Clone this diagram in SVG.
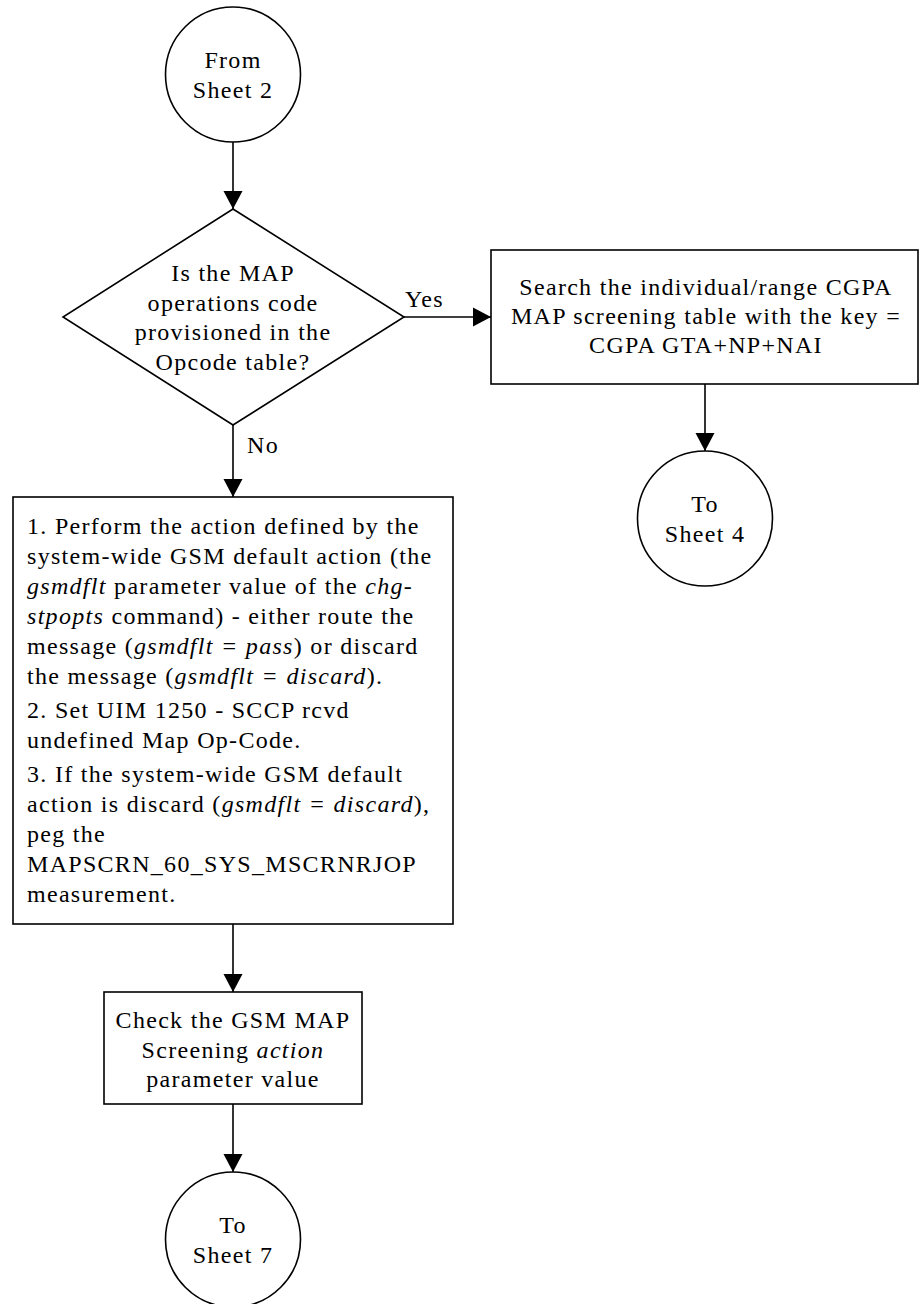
<svg xmlns="http://www.w3.org/2000/svg" width="921" height="1304" viewBox="0 0 921 1304">
<style>
.s{fill:#fff;stroke:#000;stroke-width:1.6}
.c{stroke:#000;stroke-width:1.6;fill:none}
text{font-family:"Liberation Serif","Times New Roman",serif;font-size:24px;fill:#000;letter-spacing:1.3px}
.m{text-anchor:middle}
.i{font-style:italic}
</style>
<defs>
<marker id="ah" markerWidth="20" markerHeight="20" refX="18" refY="10" orient="auto" markerUnits="userSpaceOnUse">
<path d="M0,0.5 L18,10 L0,19.5 Z" fill="#000"/>
</marker>
</defs>
<g id="connectors">
<line class="c" x1="233" y1="142" x2="233" y2="209" marker-end="url(#ah)"/>
<line class="c" x1="404" y1="317" x2="491" y2="317" marker-end="url(#ah)"/>
<line class="c" x1="705" y1="384" x2="705" y2="451" marker-end="url(#ah)"/>
<line class="c" x1="233" y1="425" x2="233" y2="497" marker-end="url(#ah)"/>
<line class="c" x1="233" y1="924" x2="233" y2="992" marker-end="url(#ah)"/>
<line class="c" x1="233" y1="1104" x2="233" y2="1172" marker-end="url(#ah)"/>
<text x="405" y="307">Yes</text>
<text x="247" y="453">No</text>
</g>
<g id="from2">
<circle class="s" cx="233" cy="74.5" r="67.5"/>
<text class="m" x="233" y="68">From</text>
<text class="m" x="233" y="98">Sheet 2</text>
</g>
<g id="decision">
<polygon class="s" points="233,209 404,317 233,425 63,317"/>
<text class="m" x="233" y="281">Is the MAP</text>
<text class="m" x="233" y="311">operations code</text>
<text class="m" x="233" y="340">provisioned in the</text>
<text class="m" x="233" y="370">Opcode table?</text>
</g>
<g id="search">
<rect class="s" x="491" y="250" width="427" height="134"/>
<text class="m" x="706" y="295">Search the individual/range CGPA</text>
<text class="m" x="706" y="324">MAP screening table with the key =</text>
<text class="m" x="706" y="353">CGPA GTA+NP+NAI</text>
</g>
<g id="to4">
<circle class="s" cx="705" cy="518.5" r="67.5"/>
<text class="m" x="705" y="512">To</text>
<text class="m" x="705" y="542">Sheet 4</text>
</g>
<g id="action">
<rect class="s" x="13" y="497" width="440" height="427"/>
<text x="27" y="534">1. Perform the action defined by the</text>
<text x="27" y="564">system-wide GSM default action (the</text>
<text x="27" y="594"><tspan class="i">gsmdflt</tspan> parameter value of the <tspan class="i">chg-</tspan></text>
<text x="27" y="624"><tspan class="i">stpopts</tspan> command) - either route the</text>
<text x="27" y="654">message (<tspan class="i">gsmdflt = pass</tspan>) or discard</text>
<text x="27" y="684">the message (<tspan class="i">gsmdflt = discard</tspan>).</text>
<text x="27" y="718">2. Set UIM 1250 - SCCP rcvd</text>
<text x="27" y="748">undefined Map Op-Code.</text>
<text x="27" y="782">3. If the system-wide GSM default</text>
<text x="27" y="812">action is discard (<tspan class="i">gsmdflt = discard</tspan>),</text>
<text x="27" y="842">peg the</text>
<text x="27" y="872">MAPSCRN_60_SYS_MSCRNRJOP</text>
<text x="27" y="902">measurement.</text>
</g>
<g id="check">
<rect class="s" x="104" y="992" width="258" height="112"/>
<text class="m" x="233" y="1028">Check the GSM MAP</text>
<text class="m" x="233" y="1058">Screening <tspan class="i">action</tspan></text>
<text class="m" x="233" y="1087">parameter value</text>
</g>
<g id="to7">
<circle class="s" cx="233" cy="1239.5" r="67.5"/>
<text class="m" x="233" y="1233">To</text>
<text class="m" x="233" y="1263">Sheet 7</text>
</g>
</svg>
